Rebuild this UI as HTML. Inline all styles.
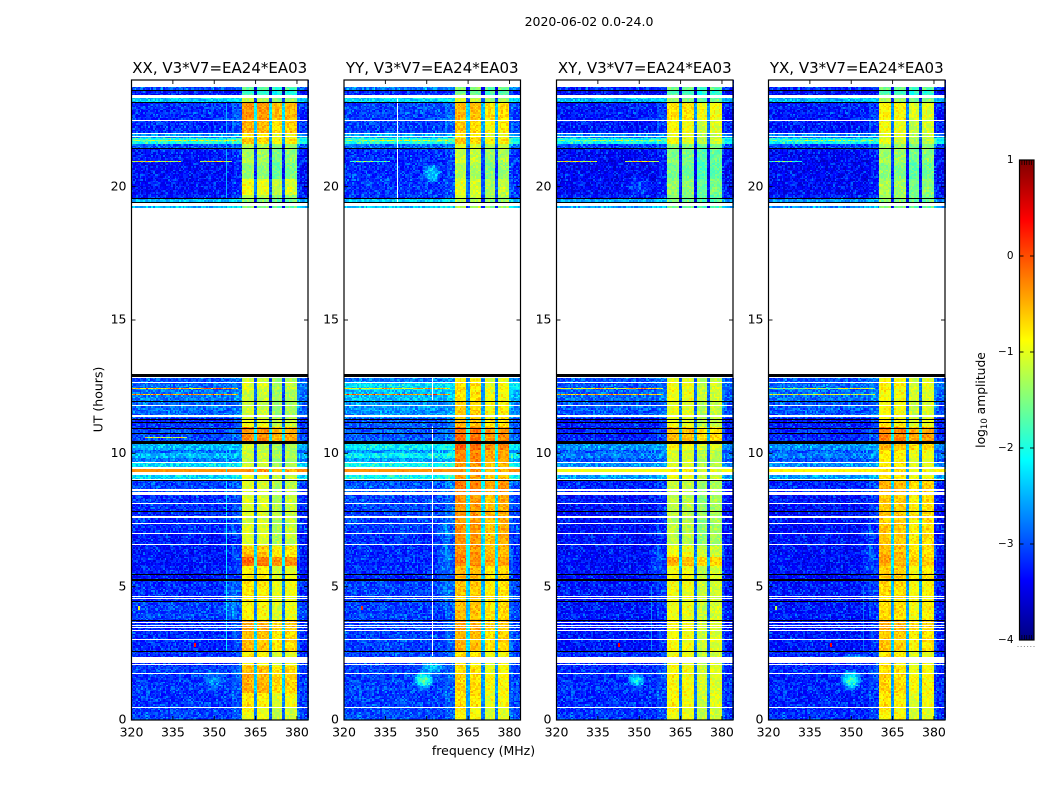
<!DOCTYPE html>
<html lang="en">
<head>
<meta charset="utf-8">
<title>2020-06-02 amplitude waterfall</title>
<style>
html,body{margin:0;padding:0;background:#fff;width:1050px;height:800px;overflow:hidden}
svg{display:block}
text{font-family:"DejaVu Sans","Liberation Sans",sans-serif;fill:#000}
</style>
</head>
<body>
<svg id="chart" xmlns="http://www.w3.org/2000/svg" width="1050" height="800" viewBox="0 0 1050 800">
<rect x="0" y="0" width="1050" height="800" fill="#fff"/>
<text x="589" y="26" font-size="12.5" text-anchor="middle">2020-06-02 0.0-24.0</text>
<text x="483.5" y="755" font-size="12.5" text-anchor="middle">frequency (MHz)</text>
<text transform="translate(102.5,399.5) rotate(-90)" font-size="12.5" text-anchor="middle">UT (hours)</text>
<text transform="translate(985,400) rotate(-90)" font-size="12.3" text-anchor="middle">log<tspan font-size="8.5" dy="2">10</tspan><tspan dy="-2"> amplitude</tspan></text>
</svg>
<script>
var panelTitles = ["XX, V3*V7=EA24*EA03", "YY, V3*V7=EA24*EA03", "XY, V3*V7=EA24*EA03", "YX, V3*V7=EA24*EA03"];
var frequencyTicks = [320, 335, 350, 365, 380];
var hourTicks = [0, 5, 10, 15, 20];
var colorbarTicks = [1, 0, -1, -2, -3, -4];

/* Time bands: top hour of each band, with log10 amplitude per correlation */
var bandTops = [24,23.59,23.34,23.15,22.5,22.02,21.86,21.62,21.42,20.9,20.3,19.7,19.53,19.21,12.87,12.64,12.35,11.93,11.35,11,10.46,10.15,10,9.85,9.68,9.42,9.3,9,8.45,7,6.55,6.1,5.75,5.2,4.42,3.74,3.33,2.59,2.07,1.75,1,0.45];
var backgroundXX = [-2.9,-3.2,-2.3,-3.1,-3.1,-2.6,-1.9,-2.9,-3.2,-3.25,-3.25,-3.2,-2.4,null,-2.9,-2.8,-2.75,-2.8,-3.1,-3,-2.4,-2.8,-2.4,-2.7,-2.2,-0.3,-2.2,-3,-3.1,-3.2,-3.2,-3.2,-3.2,-3.1,-3,-3.1,-3.1,-3.1,-3,-3.05,-3.05,-3];
var brightXX = [-1.7,-1.9,-1.3,-0.4,-0.55,-0.9,-0.7,-1.3,-1.35,-1.45,-1,-1.3,-1.5,null,-1.2,-1.1,-1.2,-1.2,-1,-0.35,-1.2,-1.2,-1.15,-1.2,-1.15,-0.4,-1,-1.1,-1.1,-1.1,-0.65,-0.2,-0.9,-0.85,-0.9,-0.5,-0.6,-0.9,-0.6,-0.55,-0.85,-1];
var backgroundYY = [-2.7,-3.1,-2.2,-3,-3,-2.5,-1.9,-2.8,-3.1,-3.1,-3.05,-3.1,-2.3,null,-2.7,-2.2,-2.4,-2.6,-2.9,-2.9,-2.1,-2.6,-2.1,-2.5,-2,-0.3,-2,-2.9,-3,-3.1,-3.1,-3.1,-3.1,-3,-3,-3,-3,-3,-3,-3,-3,-2.95];
var brightYY = [-1.5,-1.6,-1.2,-0.6,-0.7,-0.9,-0.7,-1.1,-1.2,-1.3,-1.1,-1.2,-1.3,null,-0.9,-0.8,-0.8,-0.7,-0.6,-0.2,-0.15,-0.3,-0.3,-0.3,-0.4,-0.4,-0.45,-0.25,-0.4,-0.4,-0.4,-0.3,-0.6,-0.65,-0.6,-0.5,-0.55,-0.8,-0.8,-0.75,-0.8,-0.9];
var backgroundXY = [-3.1,-3.3,-2.4,-3.2,-3.2,-2.7,-2,-3,-3.3,-3.3,-3.3,-3.2,-2.5,null,-2.9,-2.9,-2.85,-2.9,-3.2,-3.2,-2.6,-2.9,-2.7,-2.9,-2.6,-0.9,-2.5,-3.15,-3.25,-3.25,-3.25,-3.25,-3.25,-3.2,-3.2,-3.2,-3.2,-3.1,-3.1,-3.1,-3.1,-3.05];
var brightXY = [-1.6,-1.8,-1.5,-0.8,-0.95,-1.1,-1,-1.5,-1.55,-1.6,-1.45,-1.55,-1.6,null,-1.1,-1,-1,-1.05,-1.05,-0.6,-0.95,-1.1,-1.1,-1.1,-1.1,-0.9,-1,-1.2,-1.25,-1.25,-1,-0.55,-1,-1,-1,-0.95,-0.95,-1,-0.95,-0.95,-0.95,-1];
var backgroundYX = [-3.1,-3.3,-2.4,-3.2,-3.2,-2.7,-2,-3,-3.3,-3.3,-3.3,-3.2,-2.6,null,-2.9,-2.8,-2.8,-2.9,-3.2,-3.15,-2.6,-2.9,-2.7,-2.9,-2.6,-0.8,-2.5,-3.15,-3.25,-3.25,-3.25,-3.25,-3.25,-3.2,-3.2,-3.2,-3.2,-3.15,-3.1,-3.15,-3.15,-3.1];
var brightYX = [-1.6,-1.8,-1.4,-0.9,-1,-1.1,-1.1,-1.4,-1.4,-1.5,-1.35,-1.4,-1.5,null,-0.95,-0.9,-0.95,-0.95,-0.85,-0.3,-0.6,-0.8,-0.85,-0.85,-0.85,-0.8,-0.8,-0.55,-0.65,-0.65,-0.6,-0.5,-0.7,-0.75,-0.75,-0.55,-0.65,-0.85,-0.8,-0.75,-0.85,-0.9];
var panelBackground = [backgroundXX, backgroundYY, backgroundXY, backgroundYX];
var panelBright = [brightXX, brightYY, brightXY, brightYX];

/* Frequency segments: the 360-380 MHz passband and the notches inside it */
var channelEdges = [320,356.5,360.4,364.5,365.6,369.7,370.8,374.7,375.8,380,381,384];
var channelBackgroundShare = [1,0.93,0,0,0,0,0,0,0,0.93,1];
var channelOffset = [0,0,0.12,-1.7,0.08,-1.8,-0.12,-1.8,-0.05,0,0];

/* Flagged (blank) and zero (black) integrations, as [top hour, bottom hour] */
var flaggedHours = [[24,23.74],[23.45,23.34],[22.5,22.46],[22.02,21.99],[21.9,21.86],[19.39,19.29],[19.21,12.98],[12.68,12.64],[11.81,11.78],[11.44,11.35],[9.68,9.64],[9.5,9.42],[9.3,9.2],[9.05,9.01],[8.66,8.59],[8.54,8.45],[8.13,8.09],[7.65,7.58],[7.39,7.35],[7,6.96],[6.59,6.55],[4.64,4.6],[4.56,4.53],[3.66,3.62],[3.55,3.51],[3.47,3.44],[3.36,3.33],[3.04,3],[2.37,2.12],[2.11,2.07],[1.75,1.71],[0.49,0.45]];
var zeroHours = [[23.62,23.59],[23.19,23.15],[21.46,21.42],[19.56,19.53],[19.41,19.39],[12.98,12.87],[11.96,11.93],[11.29,11.25],[11.18,11.14],[10.96,10.93],[10.75,10.72],[10.46,10.35],[9,8.97],[7.83,7.8],[5.46,5.42],[5.27,5.2],[4.46,4.42],[3.74,3.7],[2.59,2.55]];

/* Interference: [panel, hour, from MHz, to MHz, log10 amplitude] */
var rfiLines = [[0,12.44,320,358,-0.5],[0,12.21,320,358,-0.35],[0,21.75,320,358,-1.2],[0,20.95,320,338,-1],[0,20.95,345,356,-1],[0,10.62,325,340,-1],[1,12.44,320,358,-0.7],[1,12.21,320,358,-0.25],[1,21.75,320,358,-1.3],[1,20.95,322,336,-1.7],[2,12.44,320,358,-0.8],[2,12.21,320,358,-0.5],[2,21.75,320,358,-1.5],[2,20.95,320,334,-1],[2,20.95,345,357,-1],[3,12.44,320,358,-1.3],[3,12.21,320,358,-1],[3,21.75,320,358,-1.5],[3,20.95,320,332,-1.8]];
var faintChannels = [[0,354.3,2.6,10,-2.2],[0,354.3,19.3,23.3,-2.5],[2,354.3,2.6,5,-2.7],[3,354.3,2.6,5,-2.8]];
var flaggedChannels = [[1,351.9,2.4,11],[1,339.2,19.3,23.3],[1,351.9,12,12.9]];
var hotSpots = [[0,342.6,2.8,0.3],[2,342.4,2.8,0.4],[3,342.4,2.8,0.4],[0,322.5,4.2,-1],[3,322.3,4.2,-1.2],[1,326,4.2,0.2]];
/* Smooth patches: [panel, MHz, hour, MHz radius, hour radius, gain] */
var patches = [[0,350,1.5,4,0.4,0.45],[0,356,4.5,3,1.5,0.25],[1,352,20.5,3.5,0.4,0.85],[1,349,1.5,4,0.35,1.3],[1,352,2,5,0.3,0.7],[1,356,6,3,2,0.25],[2,349,1.5,3.5,0.3,1],[2,356,5.8,3,1,0.25],[3,350,1.5,4,0.4,1.35],[3,352,2.3,6,0.2,0.6],[3,356,6,3,1.5,0.2],[2,350,20,6,0.4,0.3]];
/* Receiver noise texture, in units of the local noise spread */
var speckle = [0.1,-0.6,0.8,-0.2,-0.9,0.4,0.2,-0.4,1.3,-0.7,-0.1,0.6,-0.8,0.3,-0.3,1,-0.5,0,-1,0.5,0.9,-0.6,-0.2,0.2,-0.8,1.5,-0.4,0.1,-0.9,0.7,-0.3,0.4,-0.7,0,1.1,-0.5,-1,0.3,0.6,-0.2,-0.8,0.9,0.1,-0.6,-0.3,1.2,-0.9,0.5,-0.1,-0.7,0.2,0.8,-0.4,-1,0.4,-0.2,1.6,-0.6,0,-0.8,0.6,0.3,-0.5,-0.1,1,-0.9,0.2,-0.3,0.7,-0.7,-0.4,1.2,-1,0.1,0.5,-0.6,-0.2,0.9,-0.8,0.3,0,-0.5,1.4,-0.9,0.4,-0.3,-0.7,0.6,0.2,-1,0.8,-0.1,-0.4,1.1,-0.6,0.3,-0.8];

var svgNS = 'http://www.w3.org/2000/svg';
var chart = document.getElementById('chart');
var panelLeft = [131.5, 344, 556.5, 768.5];
var panelWidth = 176.5;
var plotTop = 80, plotBottom = 720;
var freqMin = 320, freqMax = 384, hourMax = 24;
var cellFreq = 0.6, cellHour = 0.06, colorLevels = 48;

function xScale(p, f) { return panelLeft[p] + (f - freqMin) / (freqMax - freqMin) * panelWidth; }
function yScale(h) { return plotBottom - h / hourMax * (plotBottom - plotTop); }
function clamp01(v) { return v < 0 ? 0 : v > 1 ? 1 : v; }
function jet(t) {
  var r = clamp01(Math.min(4 * t - 1.5, -4 * t + 4.5));
  var g = clamp01(Math.min(4 * t - 0.5, -4 * t + 3.5));
  var b = clamp01(Math.min(4 * t + 0.5, -4 * t + 2.5));
  return 'rgb(' + Math.round(r * 255) + ',' + Math.round(g * 255) + ',' + Math.round(b * 255) + ')';
}
function amplitudeToLevel(v) { return clamp01((v + 4) / 5); }
function make(tag, attrs, parent) {
  var el = document.createElementNS(svgNS, tag);
  for (var k in attrs) el.setAttribute(k, attrs[k]);
  (parent || chart).appendChild(el);
  return el;
}
function bandIndex(h) {
  for (var i = bandTops.length - 1; i >= 0; i--) if (h < bandTops[i]) return i;
  return 0;
}
function segmentIndex(f) {
  for (var i = 0; i < channelEdges.length - 1; i++) if (f < channelEdges[i + 1]) return i;
  return channelEdges.length - 2;
}
function noiseAt(r, c) {
  return speckle[(r * 31 + c * 17 + ((r * c) % 13) * 7) % speckle.length];
}

function drawHeatmap(p) {
  var layers = [];
  for (var l = 0; l <= colorLevels; l++) layers.push([]);
  var rows = Math.round(hourMax / cellHour), cols = Math.round((freqMax - freqMin) / cellFreq);
  for (var r = 0; r < rows; r++) {
    var h = (r + 0.5) * cellHour;
    var b = bandIndex(h);
    var bg = panelBackground[p][b], br = panelBright[p][b];
    if (bg === null) continue;
    var yA = Math.round(yScale((r + 1) * cellHour)), yB = Math.round(yScale(r * cellHour));
    for (var c = 0; c < cols; c++) {
      var f = freqMin + (c + 0.5) * cellFreq;
      var s = segmentIndex(f);
      var share = channelBackgroundShare[s];
      var v = share * bg + (1 - share) * br + channelOffset[s];
      if (share > 0.5) {
        for (var q = 0; q < patches.length; q++) {
          var P = patches[q];
          if (P[0] !== p) continue;
          var d = Math.pow((f - P[1]) / P[3], 2) + Math.pow((h - P[2]) / P[4], 2);
          if (d < 1) v += P[5] * (1 - d);
        }
      }
      var spread = (share > 0.5 && bg > -1) ? 0.06 : 0.18 + 0.12 * share;
      v += noiseAt(r, c) * spread;
      var level = Math.floor(amplitudeToLevel(v) * colorLevels);
      var xA = Math.round(xScale(p, freqMin + c * cellFreq)), xB = Math.round(xScale(p, freqMin + (c + 1) * cellFreq));
      if (xB > xA && yB > yA) layers[level].push('M' + xA + ' ' + yA + 'h' + (xB - xA) + 'v' + (yB - yA) + 'h' + (xA - xB) + 'z');
    }
  }
  var group = make('g', { 'shape-rendering': 'crispEdges' });
  
  
  for (var i = 0; i <= colorLevels; i++) {
    if (!layers[i].length) continue;
    var path = make('path', { d: layers[i].join(''), fill: jet(i / colorLevels) }, group);
    
    
  }
  return group;
}

function drawOverlays(p, group) {
  var width = panelWidth;
  faintChannels.forEach(function (ch) {
    if (ch[0] !== p) return;
    var el = make('rect', { x: Math.round(xScale(p, ch[1])), y: yScale(ch[3]), width: 1, height: yScale(ch[2]) - yScale(ch[3]), fill: jet(amplitudeToLevel(ch[4])) }, group);
    
    
  });
  rfiLines.forEach(function (ln) {
    if (ln[0] !== p) return;
    var y = Math.round(yScale(ln[1]));
    for (var f = ln[2], c = 0; f < ln[3]; f += cellFreq, c++) {
      var value = ln[4] + noiseAt(y, c) * 0.5;
      var seg = make('rect', { x: Math.round(xScale(p, f)), y: y, width: 2, height: 1, fill: jet(amplitudeToLevel(value)) }, group);
      
      
    }
  });
  hotSpots.forEach(function (sp) {
    if (sp[0] !== p) return;
    var el = make('rect', { x: Math.round(xScale(p, sp[1])), y: Math.round(yScale(sp[2])) - 2, width: 2, height: 4, fill: jet(amplitudeToLevel(sp[3])) }, group);
    
    
  });
  flaggedHours.forEach(function (band) {
    var yA = Math.round(yScale(band[0])), yB = Math.round(yScale(band[1]));
    var el = make('rect', { x: panelLeft[p], y: yA, width: width, height: Math.max(1, yB - yA), fill: '#fff' }, group);
    
    
  });
  flaggedChannels.forEach(function (ch) {
    if (ch[0] !== p) return;
    var el = make('rect', { x: Math.round(xScale(p, ch[1])), y: yScale(ch[3]), width: 1, height: yScale(ch[2]) - yScale(ch[3]), fill: '#fff' }, group);
    
    
  });
  zeroHours.forEach(function (band) {
    var yA = Math.round(yScale(band[0])), yB = Math.round(yScale(band[1]));
    var el = make('rect', { x: panelLeft[p], y: yA, width: width, height: Math.max(1, yB - yA), fill: '#000' }, group);
    
    
  });
}

function drawAxes(p) {
  var left = panelLeft[p], right = left + panelWidth;
  var frame = make('rect', { x: left, y: plotTop, width: panelWidth, height: plotBottom - plotTop, fill: 'none', stroke: '#000', 'stroke-width': 1.2 });
  
  
  var title = make('text', { x: left + panelWidth / 2, y: 73, 'font-size': 15, 'text-anchor': 'middle' });
  title.textContent = panelTitles[p];
  
  
  frequencyTicks.forEach(function (f) {
    var x = xScale(p, f);
    var top = make('line', { x1: x, x2: x, y1: plotTop, y2: plotTop + 4, stroke: '#000', 'stroke-width': 0.9 });
    
    
    var bottom = make('line', { x1: x, x2: x, y1: plotBottom, y2: plotBottom - 4, stroke: '#000', 'stroke-width': 0.9 });
    
    
    var label = make('text', { x: x, y: 736.5, 'font-size': 12.5, 'text-anchor': 'middle' });
    label.textContent = String(f);
    
    
  });
  hourTicks.forEach(function (h) {
    var y = yScale(h);
    var a = make('line', { x1: left, x2: left + 4, y1: y, y2: y, stroke: '#000', 'stroke-width': 0.9 });
    
    
    var b = make('line', { x1: right, x2: right - 4, y1: y, y2: y, stroke: '#000', 'stroke-width': 0.9 });
    
    
    var label = make('text', { x: left - 5, y: y + 3.7, 'font-size': 12.5, 'text-anchor': 'end' });
    label.textContent = String(h);
    
    
  });
}

function drawColorbar() {
  var cbLeft = 1019.5, cbRight = 1034, cbTop = 160, cbBottom = 640;
  var cbScale = function (v) { return cbTop + (1 - v) / 5 * (cbBottom - cbTop); };
  var defs = make('defs', {});
  var grad = make('linearGradient', { id: 'jet-gradient', x1: 0, y1: 1, x2: 0, y2: 0 }, defs);
  for (var i = 0; i <= 64; i++) {
    var stop = make('stop', { offset: (i / 64), 'stop-color': jet(i / 64) }, grad);
    
    
  }
  var bar = make('rect', { x: cbLeft, y: cbTop, width: cbRight - cbLeft, height: cbBottom - cbTop, fill: 'url(#jet-gradient)', stroke: '#000', 'stroke-width': 1.2 });
  
  
  colorbarTicks.forEach(function (v) {
    var y = cbScale(v);
    var a = make('line', { x1: cbLeft, x2: cbLeft + 4, y1: y, y2: y, stroke: '#000', 'stroke-width': 0.9 });
    
    
    var b = make('line', { x1: cbRight, x2: cbRight - 4, y1: y, y2: y, stroke: '#000', 'stroke-width': 0.9 });
    
    
    var label = make('text', { x: 1013.5, y: y + 2.8, 'font-size': 10.5, 'text-anchor': 'end' });
    label.textContent = v < 0 ? '\u2212' + Math.abs(v) : String(v);
    
    
  });
  for (var t = 1; t <= 5; t++) {
    var x = cbLeft + t * (cbRight - cbLeft) / 6;
    var m1 = make('line', { x1: x, x2: x, y1: cbTop, y2: cbTop + 5, stroke: '#000', 'stroke-width': 0.7 });
    
    
    var m2 = make('line', { x1: x, x2: x, y1: cbBottom, y2: cbBottom - 5, stroke: '#000', 'stroke-width': 0.7 });
    
    
  }
  for (var k = 0; k < 6; k++) {
    var dot = make('rect', { x: 1017.5 + k * 3.2, y: 646, width: 1, height: 1, fill: '#888' });
    
    
  }
}

for (var p = 0; p < panelTitles.length; p++) {
  var heat = drawHeatmap(p);
  drawOverlays(p, heat);
  drawAxes(p);
}
drawColorbar();
</script>
</body>
</html>
